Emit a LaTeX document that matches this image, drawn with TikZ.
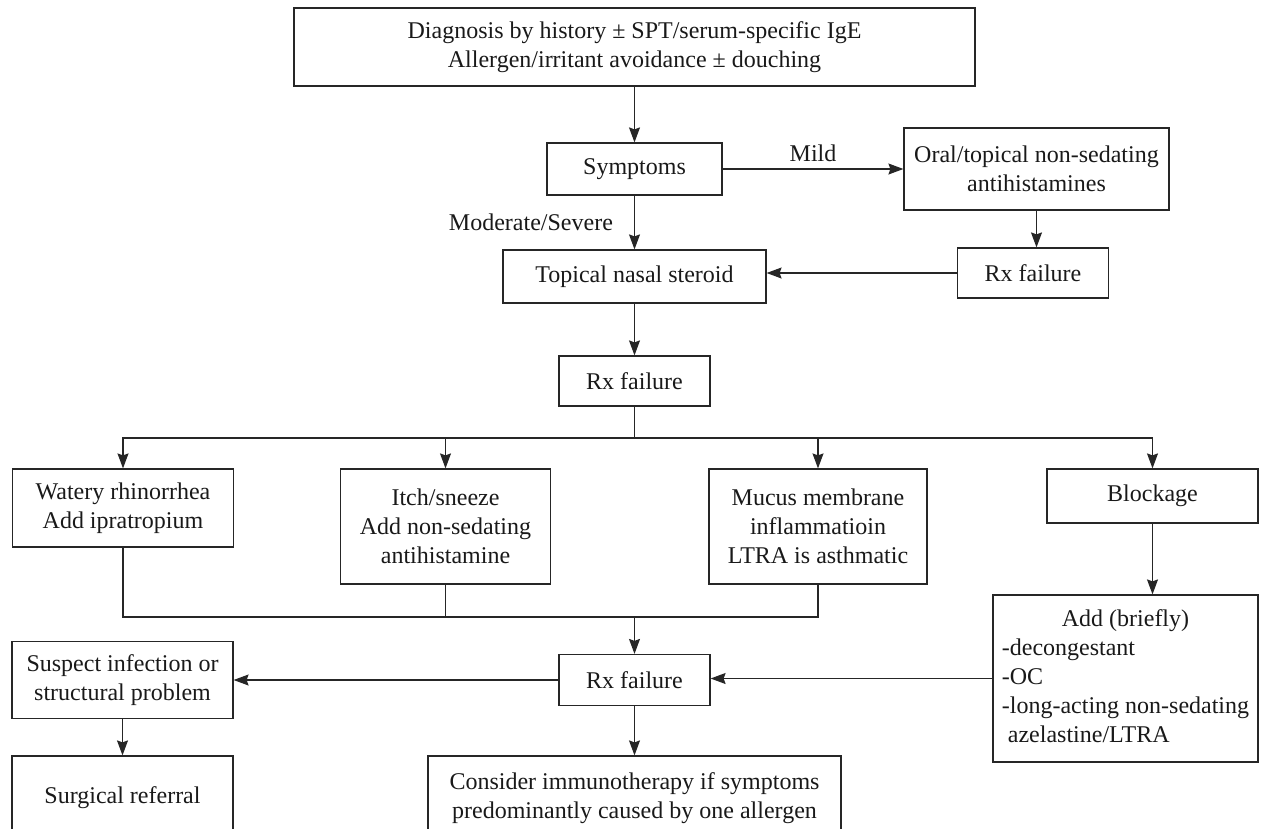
\documentclass[tikz,border=0pt]{standalone}
\usepackage{fontspec}
\setmainfont{Liberation Serif}
\usetikzlibrary{arrows.meta}

\begin{document}
\begin{tikzpicture}[
    x=1pt, y=-1pt,
    line width=1.2pt,
    every node/.style={font=\fontsize{24}{29}\selectfont, text=black!90},
    box/.style={rectangle, draw=black!85, align=center, inner sep=0pt},
    link/.style={draw=black!85},
    arrow/.style={link, -{Stealth[length=15pt,width=11pt,inset=2pt]}},
    choice/.style={inner sep=3pt}
]
    \useasboundingbox (0,0) rectangle (1262,828);
    \clip (0,0) rectangle (1262,828);

    % Diagnosis and first line
    \node [box, minimum width=681pt, minimum height=78pt] (diag) at (634.5,47) {Diagnosis by history ± SPT/serum-specific IgE\\Allergen/irritant avoidance ± douching};
    \node [box, minimum width=175pt, minimum height=52pt] (symptoms) at (634.5,169) {Symptoms};
    \node [box, minimum width=265pt, minimum height=82pt] (oral) at (1036.5,169) {Oral/topical non-sedating\\antihistamines};
    \node [box, minimum width=151pt, minimum height=50pt] (rxone) at (1033,273) {Rx failure};
    \node [box, minimum width=263pt, minimum height=53pt] (topical) at (634.5,276.5) {Topical nasal steroid};
    \node [box, minimum width=151pt, minimum height=50pt] (rxtwo) at (634.5,381) {Rx failure};

    % Add-on treatments
    \node [box, minimum width=221pt, minimum height=78pt] (watery) at (123,508) {Watery rhinorrhea\\Add ipratropium};
    \node [box, minimum width=210pt, minimum height=115pt] (itch) at (445.5,526.5) {Itch/sneeze\\Add non-sedating\\antihistamine};
    \node [box, minimum width=218pt, minimum height=115pt] (mucus) at (818,526.5) {Mucus membrane\\inflammatioin\\LTRA is asthmatic};
    \node [box, minimum width=211pt, minimum height=54pt] (blockage) at (1152.5,496) {Blockage};
    \node [box, minimum width=265pt, minimum height=167pt] (addbox) at (1125.5,678.5) {\begin{tabular}{@{}l@{}}\multicolumn{1}{@{}c@{}}{Add (briefly)}\\-decongestant\\-OC\\-long-acting non-sedating\\\ azelastine/LTRA\end{tabular}};

    % Second failure
    \node [box, minimum width=151pt, minimum height=51pt] (rxthree) at (634.5,680) {Rx failure};
    \node [box, minimum width=221pt, minimum height=77pt] (suspect) at (122.5,680) {Suspect infection or\\structural problem};
    \node [box, minimum width=221pt, minimum height=84pt] (surgical) at (122.5,798) {Surgical referral};
    \node [box, minimum width=413pt, minimum height=84pt] (consider) at (634.5,798) {Consider immunotherapy if symptoms\\predominantly caused by one allergen};

    \coordinate (bus) at (634.5,438);
    \coordinate (merge) at (634.5,617);

    % Arrows
    \draw [arrow] (diag) -- (symptoms);
    \draw [arrow] (symptoms.east) -- node [choice, above=4pt] {Mild} (symptoms.east -| oral.west);
    \draw [arrow] (symptoms) -- node [choice, left=18pt] {Moderate/Severe} (topical);
    \draw [arrow] (oral.south) -- (oral.south |- rxone.north);
    \draw [arrow] (rxone.west) -- (rxone.west -| topical.east);
    \draw [arrow] (topical) -- (rxtwo);
    \draw [link] (rxtwo) -- (bus);
    \draw [arrow] (bus) -| (watery);
    \draw [arrow] (bus) -| (itch);
    \draw [arrow] (bus) -| (mucus);
    \draw [arrow] (bus) -| (blockage);
    \draw [link] (watery) |- (merge);
    \draw [link] (itch) |- (merge);
    \draw [link] (mucus) |- (merge);
    \draw [arrow] (merge) -- (rxthree);
    \draw [arrow] (blockage.south) -- (blockage.south |- addbox.north);
    \draw [arrow] (addbox.west) -- (addbox.west -| rxthree.east);
    \draw [arrow] (rxthree) -- (suspect);
    \draw [arrow] (suspect) -- (surgical);
    \draw [arrow] (rxthree) -- (consider);
\end{tikzpicture}
\end{document}
